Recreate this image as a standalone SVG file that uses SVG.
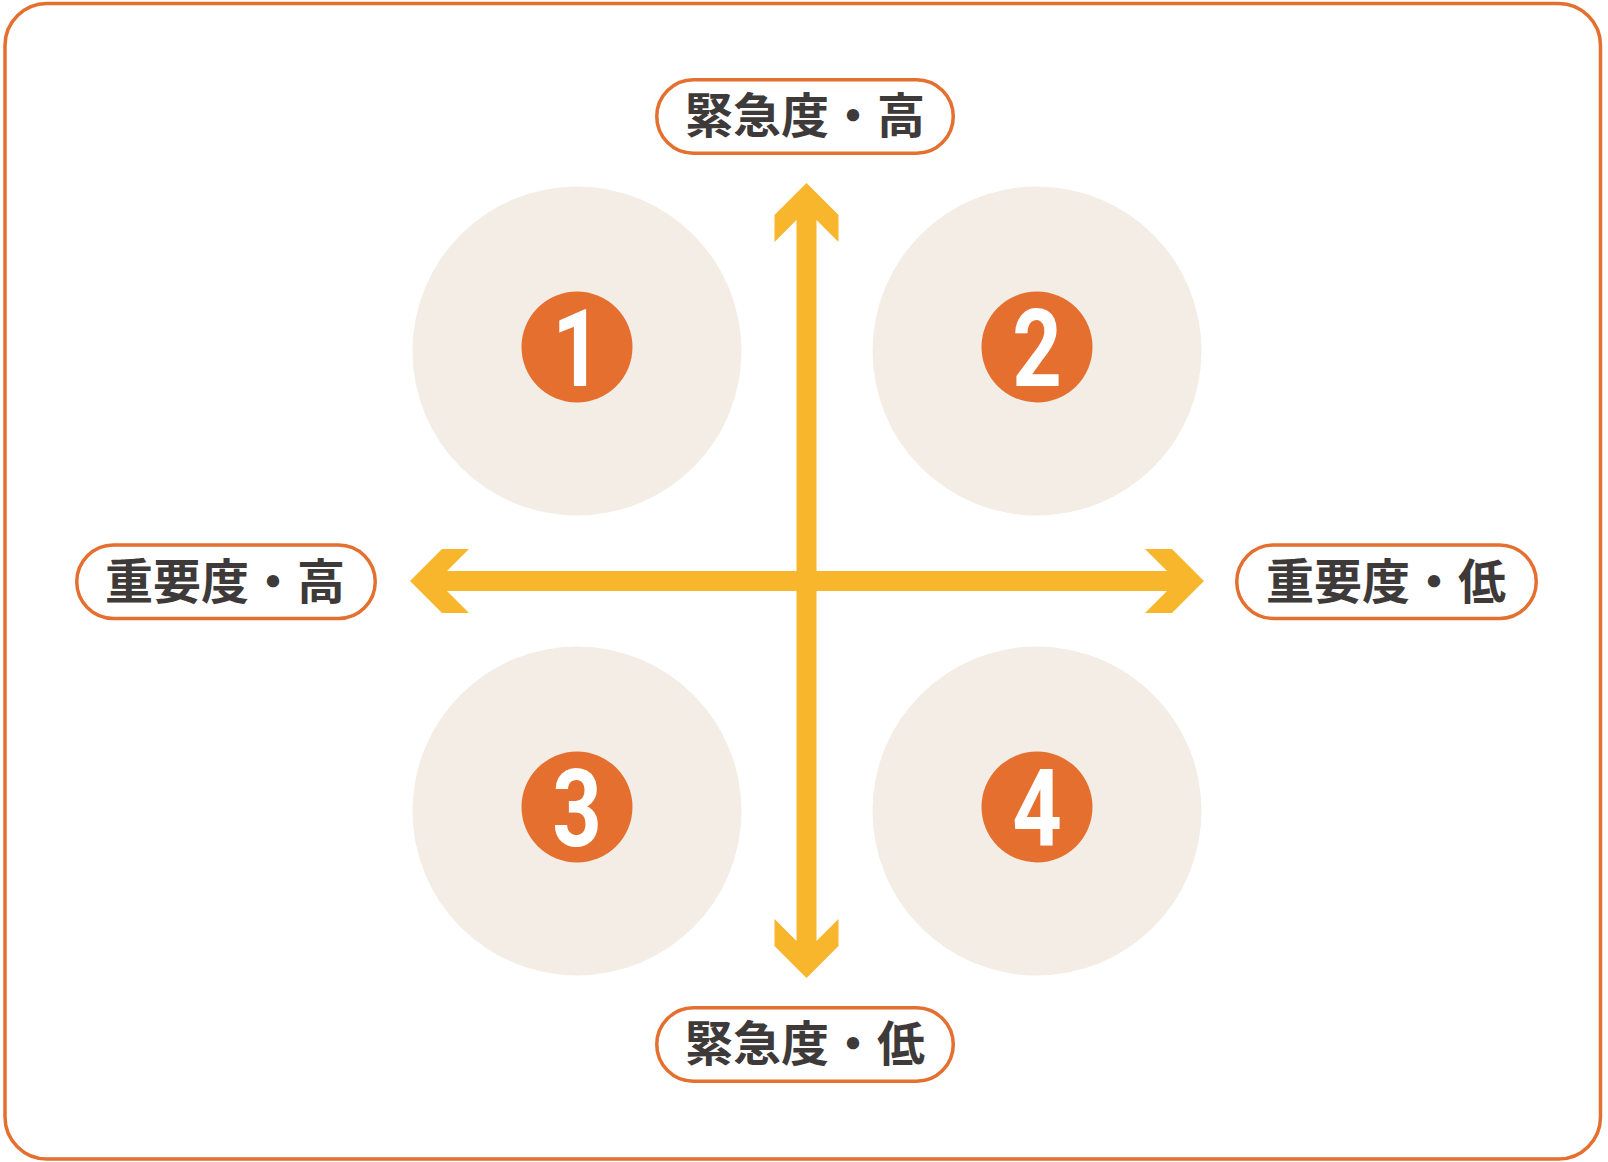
<svg xmlns="http://www.w3.org/2000/svg" width="1608" height="1162" viewBox="0 0 1608 1162">
  <style>
    .frame { fill: #ffffff; stroke: #E46F2E; stroke-width: 3.5; }
    .pill { fill: #ffffff; stroke: #E46F2E; stroke-width: 3.5; }
    .label { font-family: "Noto Sans CJK JP", "Noto Sans CJK SC", sans-serif; font-weight: 700; font-size: 48px; fill: #3E3A39; text-anchor: middle; }
    .quad { fill: #F3EDE5; }
    .badge { fill: #E46F2E; }
    .num { font-family: Roboto, "Liberation Sans", sans-serif; font-weight: 700; font-size: 108px; fill: #ffffff; text-anchor: middle; }
    .arrow { fill: #F8B62D; }
  </style>
  <rect class="frame" x="5" y="3.5" width="1595.5" height="1155.5" rx="42" ry="42"/>

  <g id="quadrant-1">
    <circle class="quad" cx="577" cy="351" r="164.5"/>
    <circle class="badge" cx="577" cy="347" r="55.5"/>
    <text class="num" transform="translate(577,386) scale(0.8,1)">1</text>
  </g>
  <g id="quadrant-2">
    <circle class="quad" cx="1037" cy="351" r="164.5"/>
    <circle class="badge" cx="1037" cy="347" r="55.5"/>
    <text class="num" transform="translate(1037,386) scale(0.8,1)">2</text>
  </g>
  <g id="quadrant-3">
    <circle class="quad" cx="577" cy="811" r="164.5"/>
    <circle class="badge" cx="577" cy="807" r="55.5"/>
    <text class="num" transform="translate(577,846) scale(0.8,1)">3</text>
  </g>
  <g id="quadrant-4">
    <circle class="quad" cx="1037" cy="811" r="164.5"/>
    <circle class="badge" cx="1037" cy="807" r="55.5"/>
    <text class="num" transform="translate(1037,846) scale(0.8,1)">4</text>
  </g>

  <g id="connectors">
    <polygon id="axis-urgency" class="arrow" points="806.5,183 774.5,215 774.5,242 796.5,220 796.5,941 774.5,919 774.5,946 806.5,978 838.5,946 838.5,919 816.5,941 816.5,220 838.5,242 838.5,215"/>
    <polygon id="axis-importance" class="arrow" points="410,581 442,549 469,549 447,571 1167,571 1145,549 1172,549 1204,581 1172,613 1145,613 1167,591 447,591 469,613 442,613"/>
  </g>

  <g id="label-urgency-high">
    <rect class="pill" x="656.75" y="79.75" width="296.5" height="73.5" rx="36.75"/>
    <text class="label" x="805" y="133">緊急度・高</text>
  </g>
  <g id="label-urgency-low">
    <rect class="pill" x="656.75" y="1007.75" width="296.5" height="73.5" rx="36.75"/>
    <text class="label" x="805" y="1061">緊急度・低</text>
  </g>
  <g id="label-importance-high">
    <rect class="pill" x="76.75" y="545" width="298.5" height="73.5" rx="36.75"/>
    <text class="label" x="225" y="599">重要度・高</text>
  </g>
  <g id="label-importance-low">
    <rect class="pill" x="1236.75" y="545" width="299.5" height="73.5" rx="36.75"/>
    <text class="label" x="1386" y="599">重要度・低</text>
  </g>
</svg>
